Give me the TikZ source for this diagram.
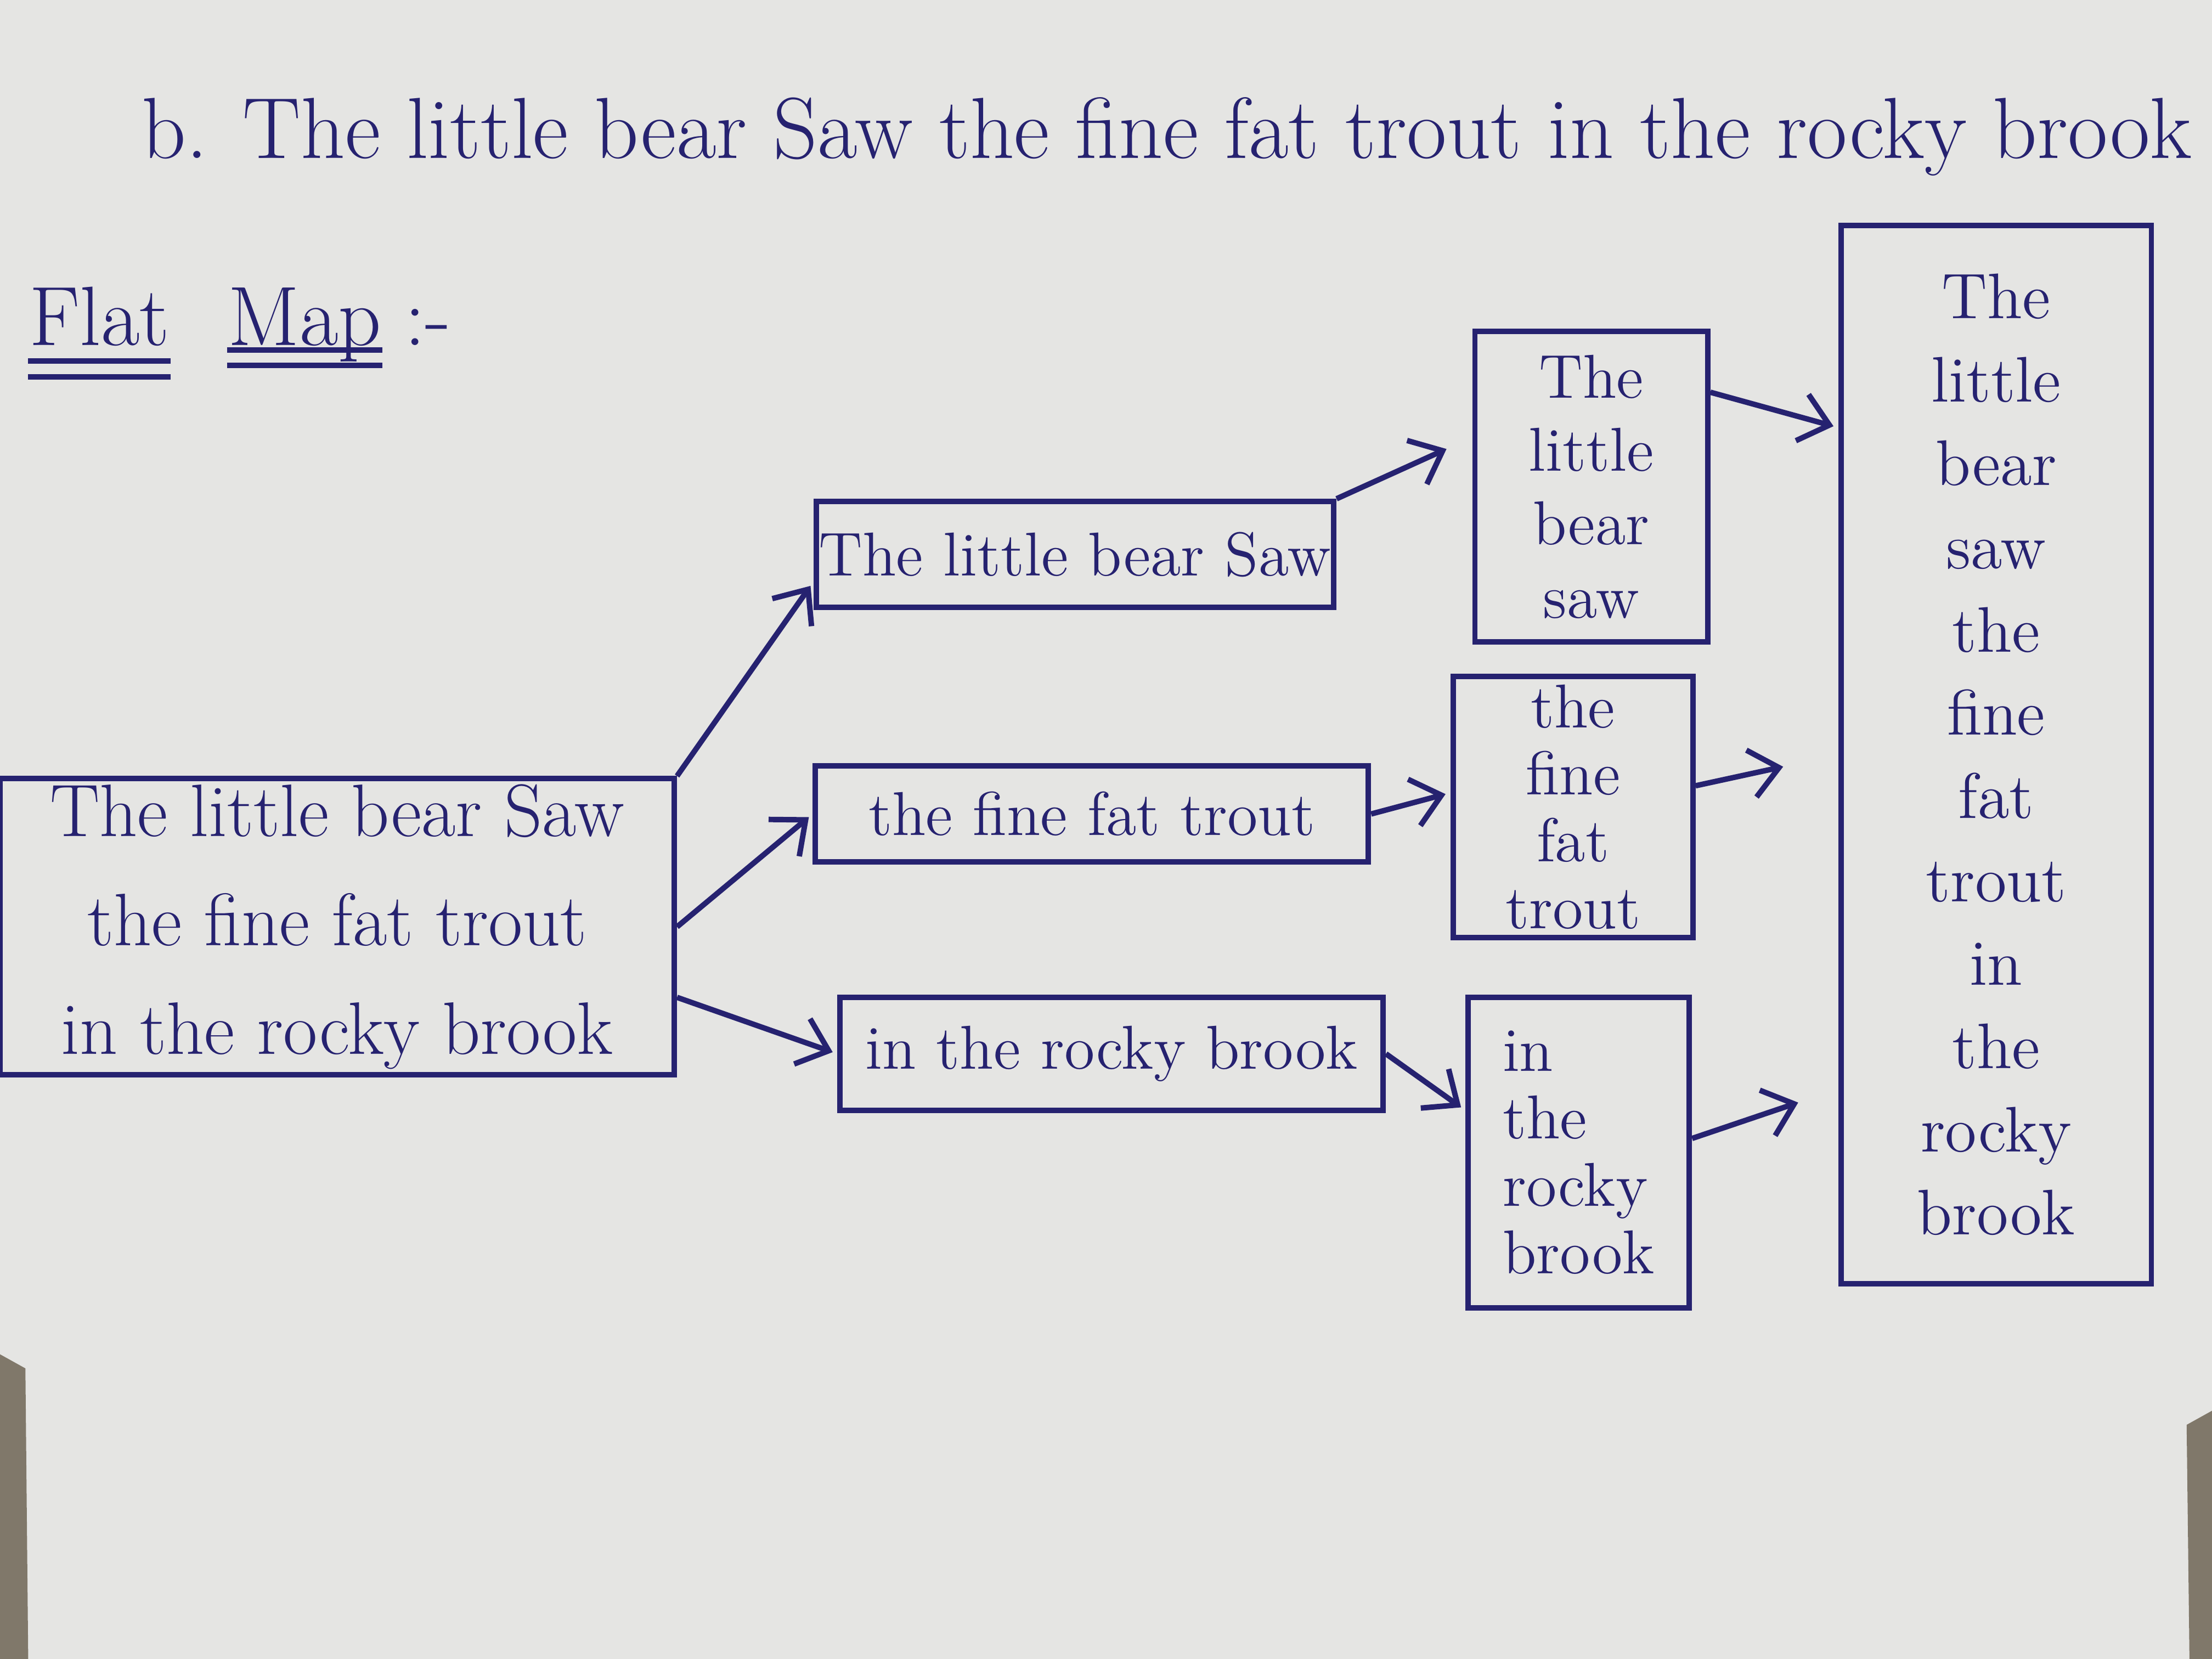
\documentclass[tikz,border=0pt]{standalone}
\usetikzlibrary{arrows.meta,positioning}

\definecolor{ink}{RGB}{38,34,112}
\definecolor{paper}{RGB}{229,229,227}
\definecolor{floor}{RGB}{128,120,106}

\begin{document}
\begin{tikzpicture}[
    pen/.style={draw=ink, line width=1.1pt},
    rowbox/.style={pen, text=ink, inner sep=0pt, align=center, font=\fontsize{12.5}{15}\selectfont},
    colbox/.style={pen, text=ink, inner sep=0pt, align=center},
    link/.style={pen, -{Straight Barb[length=2mm,width=3.4mm]}, shorten >=1pt},
    word/.style={text=ink, inner sep=0pt}
]

    % Paper and page size
    \fill[paper] (0,0) rectangle (15.68,-11.76);
    \useasboundingbox (0,0) rectangle (15.68,-11.76);
    \fill[floor] (0,-9.6) -- (0.18,-9.7) -- (0.2,-11.76) -- (0,-11.76) -- cycle;
    \fill[floor] (15.68,-10.0) -- (15.5,-10.1) -- (15.52,-11.76) -- (15.68,-11.76) -- cycle;

    % Title sentence
    \node[word, anchor=west, font=\fontsize{17.5}{20}\selectfont] (title) at (1.0,-0.97)
        {b. The little bear Saw the fine fat trout in the rocky brook};

    % Heading with underlines
    \node[word, anchor=base west, font=\fontsize{17}{20}\selectfont] (flat) at (0.2,-2.45) {Flat};
    \node[word, font=\fontsize{17}{20}\selectfont, base right=4mm of flat] (map) {Map};
    \node[word, font=\fontsize{17}{20}\selectfont, base right=1.5mm of map] (sep) {:-};
    \draw[pen] ([yshift=-1.1mm]flat.base west) -- ([yshift=-1.1mm]flat.base east);
    \draw[pen] ([yshift=-2.2mm]flat.base west) -- ([yshift=-2.2mm]flat.base east);
    \draw[pen] ([yshift=-0.3mm]map.base west) -- ([yshift=-0.3mm]map.base east);
    \draw[pen] ([yshift=-1.4mm]map.base west) -- ([yshift=-1.4mm]map.base east);

    % Whole sentence
    \node[rowbox, minimum width=4.78cm, minimum height=2.1cm, font=\fontsize{15}{22}\selectfont] (src) at (2.39,-6.57)
        {The little bear Saw\\the fine fat trout\\in the rocky brook};

    % Split into three phrases
    \node[rowbox, minimum width=3.67cm, minimum height=0.75cm] (split1) at (7.62,-3.93) {The little bear Saw};
    \node[rowbox, minimum width=3.92cm, minimum height=0.68cm] (split2) at (7.74,-5.77) {the fine fat trout};
    \node[rowbox, minimum width=3.85cm, minimum height=0.8cm] (split3) at (7.88,-7.47) {in the rocky brook};

    % Each phrase mapped to words
    \node[colbox, minimum width=1.65cm, minimum height=2.2cm, font=\fontsize{12.5}{14.8}\selectfont] (colA) at (11.28,-3.45)
        {The\\little\\bear\\saw};
    \node[colbox, minimum width=1.7cm, minimum height=1.85cm, font=\fontsize{12.5}{13.5}\selectfont] (colB) at (11.15,-5.72)
        {the\\fine\\fat\\trout};
    \node[colbox, align=left, minimum width=1.57cm, minimum height=2.2cm, font=\fontsize{12.5}{13.6}\selectfont] (colC) at (11.19,-8.17)
        {in\\the\\rocky\\brook};

    % Flattened result
    \node[colbox, minimum width=2.2cm, minimum height=7.5cm, font=\fontsize{13}{16.8}\selectfont] (final) at (14.15,-5.35)
        {The\\little\\bear\\saw\\the\\fine\\fat\\trout\\in\\the\\rocky\\brook};

    % Arrows
    \draw[link] (src.north east) -- ([yshift=2mm]split1.south west);
    \draw[link] (src.east) -- (split2.west);
    \draw[link] ([yshift=-5mm]src.east) -- (split3.west);
    \draw[link, shorten >=2mm] (split1.north east) -- ([yshift=3.5mm]colA.west);
    \draw[link] (split2.east) -- ([yshift=1mm]colB.west);
    \draw[link] (split3.east) -- ([yshift=3mm]colC.west);
    \draw[link] ([yshift=-4.5mm]colA.north east) -- ([yshift=-14.5mm]final.north west);
    \draw[link, shorten >=4mm] ([yshift=1.5mm]colB.east) -- (final.west);
    \draw[link, shorten >=3mm] ([yshift=1mm]colC.east) -- ([yshift=14mm]final.south west);

\end{tikzpicture}
\end{document}
